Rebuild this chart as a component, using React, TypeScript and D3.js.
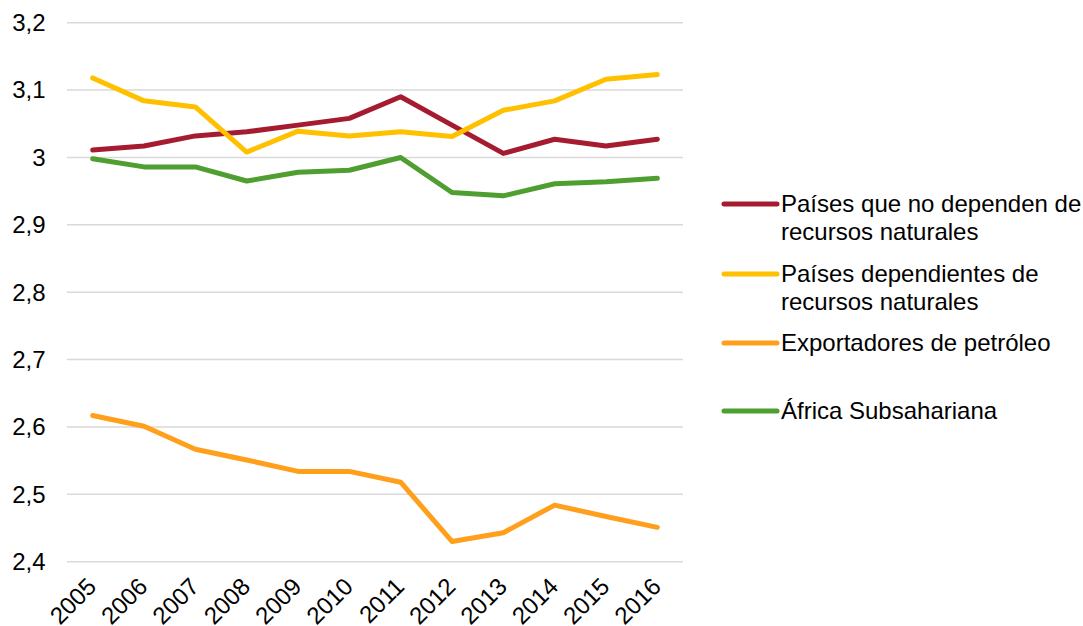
import React from "react";
import * as d3 from "d3";

const years = ["2005","2006","2007","2008","2009","2010","2011","2012","2013","2014","2015","2016"];
const noDependen = [3.011,3.017,3.032,3.038,3.048,3.058,3.090,3.048,3.006,3.027,3.017,3.027];
const dependientes = [3.118,3.084,3.075,3.008,3.039,3.032,3.038,3.031,3.070,3.084,3.116,3.123];
const petroleo = [2.617,2.601,2.567,2.551,2.534,2.534,2.518,2.430,2.443,2.484,2.467,2.451];
const africa = [2.998,2.986,2.986,2.965,2.978,2.981,3.000,2.948,2.943,2.961,2.964,2.969];
const yTicks = [2.4,2.5,2.6,2.7,2.8,2.9,3.0,3.1,3.2];

const series = [
  { name: ["Países que no dependen de", "recursos naturales"], values: noDependen, color: "#A51C30" },
  { name: ["Países dependientes de", "recursos naturales"], values: dependientes, color: "#FFC000" },
  { name: ["Exportadores de petróleo"], values: petroleo, color: "#FF9F1C" },
  { name: ["África Subsahariana"], values: africa, color: "#4F9E30" },
];

const legendY = [204, 274, 343, 411];

export default function App() {
  const W = 1083, H = 626;
  const x0 = 67, x1 = 683, yTop = 22.7, yBot = 561.7;
  const x = d3.scaleBand<string>().domain(years).range([x0, x1]);
  const y = d3.scaleLinear().domain([2.4, 3.2]).range([yBot, yTop]);
  const line = d3.line<number>()
    .x((_, i) => (x(years[i]) as number) + x.bandwidth() / 2)
    .y((d) => y(d));
  const font = "'Liberation Sans', Arial, sans-serif";
  const fs = 24;
  return (
    <svg width={W} height={H} style={{ position: "absolute", left: 0, top: 0, background: "#fff" }} fontFamily={font}>
      {yTicks.map((t) => (
        <g key={t}>
          <line x1={x0} x2={x1} y1={y(t)} y2={y(t)} stroke="#D9D9D9" strokeWidth={1.5} />
          <text x={45.5} y={y(t)} dy="0.35em" textAnchor="end" fontSize={fs} fill="#000">
            {d3.format(".1f")(t).replace(".", ",").replace(/^3,0$/, "3")}
          </text>
        </g>
      ))}
      {years.map((yr) => {
        const cx = (x(yr) as number) + x.bandwidth() / 2;
        return (
          <text key={yr} transform={`translate(${cx + 5},${588}) rotate(-45)`} textAnchor="end" fontSize={fs} fill="#000">
            {yr}
          </text>
        );
      })}
      {series.map((s) => (
        <path key={s.color} d={line(s.values) || ""} fill="none" stroke={s.color} strokeWidth={5} strokeLinejoin="round" strokeLinecap="round" />
      ))}
      {series.map((s, i) => (
        <g key={"l" + i}>
          <line x1={724} x2={777} y1={legendY[i]} y2={legendY[i]} stroke={s.color} strokeWidth={5} strokeLinecap="round" />
          {s.name.map((ln, j) => (
            <text key={j} x={781} y={legendY[i] + j * 27.5} dy="0.35em" fontSize={fs} fill="#000">
              {ln}
            </text>
          ))}
        </g>
      ))}
    </svg>
  );
}
